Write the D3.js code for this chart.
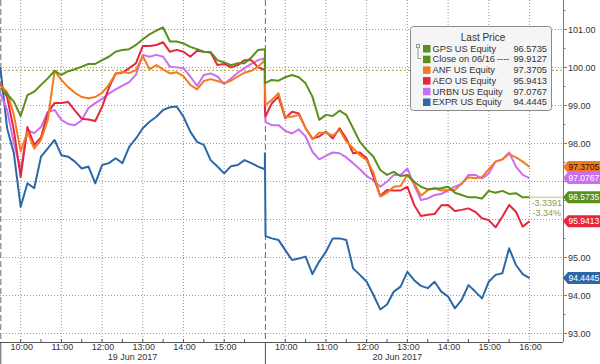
<!DOCTYPE html>
<html>
<head>
<meta charset="utf-8">
<script src="https://cdn.jsdelivr.net/npm/d3@7"></script>
<style>
  body { margin: 0; background: #fff; }
  text { font-family: "Liberation Sans", Arial, sans-serif; }
</style>
</head>
<body>
<div id="chart"></div>
<script>
// sample times (10 min bars, plus the opening print on day 2)
const day1Times = ("09:30 09:40 09:50 10:00 10:10 10:20 10:30 10:40 10:50 11:00 11:10 11:20 11:30 11:40 11:50 " +
  "12:00 12:10 12:20 12:30 12:40 12:50 13:00 13:10 13:20 13:30 13:40 13:50 14:00 14:10 14:20 14:30 14:40 14:50 " +
  "15:00 15:10 15:20 15:30 15:40 15:50 16:00").split(" ")
const day2Times = ("09:30 09:31 09:40 09:50 10:00 10:10 10:20 10:30 10:40 10:50 11:00 11:10 11:20 11:30 11:40 11:50 " +
  "12:00 12:10 12:20 12:30 12:40 12:50 13:00 13:10 13:20 13:30 13:40 13:50 14:00 14:10 14:20 14:30 14:40 14:50 " +
  "15:00 15:10 15:20 15:30 15:40 15:50 16:00").split(" ")
const dayLabels = ["19 Jun 2017", "20 Jun 2017"]
const hourLabels1 = ["10:00", "11:00", "12:00", "13:00", "14:00", "15:00"]
const hourLabels2 = ["10:00", "11:00", "12:00", "13:00", "14:00", "15:00", "16:00"]
const yTicks = [93, 94, 95, 96, 97, 98, 99, 100, 101]

const gps = [99.44, 99.29, 99.09, 98.71, 99.26, 99.35, 99.53, 99.70, 99.90, 99.79,
  99.89, 99.94, 100.01, 100.08, 100.08, 100.18, 100.27, 100.40, 100.45, 100.47,
  100.58, 100.73, 100.86, 100.96, 101.04, 100.67, 100.67, 100.62, 100.53, 100.47,
  100.40, 100.39, 100.18, 100.12, 100.05, 100.10, 100.10, 100.25, 100.45, 100.47,
  99.60, 99.58, 99.66, 99.64, 99.73, 99.79, 99.73, 99.57, 99.22, 98.61, 98.74,
  98.71, 98.85, 98.74, 98.39, 98.03, 97.82, 97.64, 97.29, 97.16, 97.24,
  97.13, 97.16, 96.98, 96.85, 96.78, 96.80, 96.81, 96.85, 96.69, 96.63,
  96.57, 96.57, 96.54, 96.74, 96.69, 96.74, 96.66, 96.68, 96.57, 96.5735]
const anf = [99.53, 99.34, 98.74, 97.78, 98.29, 97.85, 98.08, 98.61, 99.90, 99.66,
  99.47, 99.32, 99.21, 99.18, 99.21, 99.32, 99.53, 99.82, 99.87, 99.84,
  99.92, 100.29, 99.94, 100.05, 99.94, 99.83, 99.86, 99.76, 99.53, 99.41,
  99.63, 99.68, 99.63, 99.57, 99.64, 99.75, 99.85, 99.90, 100.01, 100.18,
  99.50, 99.00, 99.13, 99.31, 98.69, 98.69, 98.74, 98.39, 98.10, 98.27, 98.27,
  98.19, 98.34, 98.04, 97.86, 97.68, 97.55, 97.22, 96.59, 96.69, 96.85,
  96.87, 97.16, 96.94, 96.61, 96.76, 96.81, 96.75, 96.76, 96.76, 96.94,
  97.10, 97.07, 97.10, 97.31, 97.51, 97.57, 97.71, 97.62, 97.51, 97.3705]
const aeo = [99.55, 99.21, 98.34, 97.10, 98.42, 97.95, 98.15, 98.80, 99.05, 99.05,
  99.08, 98.85, 98.64, 98.62, 98.58, 98.95, 99.45, 99.83, 99.85, 99.97,
  100.10, 100.55, 100.55, 100.58, 100.65, 100.40, 100.45, 100.40, 100.27, 100.43,
  100.40, 100.38, 100.05, 100.08, 99.99, 100.05, 100.18, 100.18, 99.99, 99.92,
  98.90, 98.70, 99.04, 99.22, 98.65, 98.82, 98.78, 98.39, 98.12, 98.17, 98.30,
  98.12, 98.39, 98.12, 97.73, 97.75, 97.60, 97.11, 96.61, 96.76, 96.75,
  96.75, 96.85, 96.37, 96.08, 96.11, 96.13, 96.36, 96.37, 96.21, 96.24,
  96.28, 96.19, 96.02, 95.97, 95.78, 96.06, 96.37, 96.19, 95.80, 95.9413]
const urbn = [99.30, 98.87, 98.00, 97.30, 98.34, 98.26, 98.42, 98.82, 98.87, 98.61,
  98.50, 98.47, 98.60, 98.92, 99.05, 99.16, 99.30, 99.41, 99.51, 99.60,
  99.80, 100.32, 100.27, 100.32, 100.27, 100.01, 99.99, 99.97, 99.75, 99.50,
  99.79, 99.83, 99.75, 99.55, 99.70, 99.85, 99.97, 100.08, 100.18, 100.23,
  98.90, 98.55, 98.47, 98.47, 98.32, 98.25, 98.36, 98.17, 97.77, 97.57, 97.66,
  97.75, 97.73, 97.62, 97.47, 97.31, 97.13, 97.02, 96.85, 96.98, 97.16,
  97.16, 97.33, 96.89, 96.50, 96.54, 96.63, 96.66, 96.75, 96.85, 96.92,
  97.16, 97.16, 97.07, 97.20, 97.51, 97.57, 97.75, 97.38, 97.16, 97.0767]
const expr = [100.00, 98.39, 97.73, 96.32, 96.94, 96.81, 97.64, 97.86, 98.08, 97.68,
  97.64, 97.51, 97.33, 97.38, 96.94, 97.42, 97.47, 97.60, 97.47, 97.90,
  98.12, 98.39, 98.56, 98.69, 98.87, 98.94, 98.96, 98.69, 98.30, 98.03,
  97.95, 97.55, 97.38, 97.20, 97.39, 97.42, 97.55, 97.47, 97.38, 97.31,
  97.73, 95.55, 95.49, 95.45, 95.18, 94.92, 94.96, 95.01, 94.55, 94.88, 95.14,
  95.49, 95.49, 95.45, 94.70, 94.53, 94.35, 94.00, 93.62, 93.75, 94.09,
  94.22, 94.61, 94.39, 94.24, 94.18, 94.35, 94.09, 93.96, 93.65, 93.87,
  94.26, 94.09, 93.91, 94.35, 94.53, 94.57, 95.23, 94.79, 94.55, 94.4445]

const closePrev = 99.9127
const netChange = "-3.3391"
const pctChange = "-3.34%"

const series = [
  {name: "EXPR US Equity", values: expr, color: "#2c68a8", textColor: "#fff"},
  {name: "URBN US Equity", values: urbn, color: "#cc6ef2", textColor: "#fff"},
  {name: "AEO US Equity", values: aeo, color: "#e6263d", textColor: "#fff"},
  {name: "ANF US Equity", values: anf, color: "#f47a20", textColor: "#2a1000"},
  {name: "GPS US Equity", values: gps, color: "#5a8f1e", textColor: "#fff"}
]

const WIDTH = 600, HEIGHT = 364
const PLOT = {LEFT: 0, RIGHT: 563, TOP: 0, BOTTOM: 342}

const toMin = t => {
  const [h, m] = t.split(":").map(Number)
  return h * 60 + m - 570
}
const minutes = day1Times.map(toMin).concat(day2Times.map(t => toMin(t) + 390))

const x = d3.scaleLinear().domain([0, 780]).range([0.3, 529.5])
const y = d3.scaleLinear().domain([93, 101]).range([333, 29])

const svg = d3.select("#chart").append("svg")
  .attr("width", WIDTH)
  .attr("height", HEIGHT)

// grid
const hourMins = hourLabels1.map(h => toMin(h)).concat(hourLabels2.map(h => toMin(h) + 390))
svg.append("g").selectAll("line").data(hourMins).enter().append("line")
  .attr("x1", d => x(d)).attr("x2", d => x(d))
  .attr("y1", PLOT.TOP).attr("y2", PLOT.BOTTOM)
  .attr("stroke", "#9a9a9a").attr("stroke-dasharray", "1,2")
svg.append("g").selectAll("line").data(yTicks).enter().append("line")
  .attr("x1", PLOT.LEFT).attr("x2", PLOT.RIGHT)
  .attr("y1", d => y(d) + 0.5).attr("y2", d => y(d) + 0.5)
  .attr("stroke", "#9a9a9a").attr("stroke-dasharray", "1,2")

// previous close line
svg.append("line")
  .attr("x1", PLOT.LEFT).attr("x2", PLOT.RIGHT)
  .attr("y1", y(closePrev)).attr("y2", y(closePrev))
  .attr("stroke", "#a7a93c").attr("stroke-dasharray", "2,2")

// day separators
;[0, 390].forEach(m => {
  svg.append("line")
    .attr("x1", x(m) + 0.5).attr("x2", x(m) + 0.5)
    .attr("y1", PLOT.TOP).attr("y2", PLOT.BOTTOM)
    .attr("stroke", "#6e6e6e").attr("stroke-dasharray", "6,3")
  svg.append("line")
    .attr("x1", x(m) + 0.5).attr("x2", x(m) + 0.5)
    .attr("y1", PLOT.BOTTOM).attr("y2", HEIGHT)
    .attr("stroke", "#555")
})

// lines
const line = d3.line()
  .x((d, i) => x(minutes[i]))
  .y(d => y(d))

series.forEach(s => {
  svg.append("path")
    .datum(s.values)
    .attr("d", line)
    .attr("fill", "none")
    .attr("stroke", s.color)
    .attr("stroke-width", 2)
    .attr("stroke-linejoin", "round")
})

// net change marker for GPS
const gpsLast = gps[gps.length - 1]
svg.append("line")
  .attr("x1", x(780)).attr("x2", PLOT.RIGHT)
  .attr("y1", y(gpsLast)).attr("y2", y(gpsLast))
  .attr("stroke", "#b9c48c")
svg.append("text").attr("x", x(780) + 2).attr("y", y(gpsLast) + 9)
  .attr("font-size", 9).attr("fill", "#8c9a45").text(netChange)
svg.append("text").attr("x", x(780) + 3).attr("y", y(gpsLast) + 19)
  .attr("font-size", 9).attr("fill", "#8c9a45").text(pctChange)

// x axis
svg.append("line")
  .attr("x1", PLOT.LEFT).attr("x2", PLOT.RIGHT)
  .attr("y1", PLOT.BOTTOM + 0.5).attr("y2", PLOT.BOTTOM + 0.5)
  .attr("stroke", "#555")
const halfHours = d3.range(30, 780, 30).filter(m => m !== 390)
svg.append("g").selectAll("line").data(halfHours).enter().append("line")
  .attr("x1", d => x(d)).attr("x2", d => x(d))
  .attr("y1", PLOT.BOTTOM - 3).attr("y2", PLOT.BOTTOM)
  .attr("stroke", "#555")
svg.append("g").selectAll("text").data(hourLabels1.map(h => [h, toMin(h)]).concat(hourLabels2.map(h => [h, toMin(h) + 390])))
  .enter().append("text")
  .attr("x", d => x(d[1]) + 1)
  .attr("y", PLOT.BOTTOM + 8)
  .attr("text-anchor", "middle")
  .attr("font-size", 9)
  .attr("fill", "#333")
  .text(d => d[0])
svg.append("g").selectAll("text").data(dayLabels).enter().append("text")
  .attr("x", (d, i) => x(i * 390 + 195))
  .attr("y", PLOT.BOTTOM + 18)
  .attr("text-anchor", "middle")
  .attr("font-size", 9)
  .attr("fill", "#333")
  .text(d => d)

// y axis on the right
const lastValues = series.map(s => s.values[s.values.length - 1])
svg.append("line")
  .attr("x1", PLOT.RIGHT + 0.5).attr("x2", PLOT.RIGHT + 0.5)
  .attr("y1", PLOT.TOP).attr("y2", PLOT.BOTTOM)
  .attr("stroke", "#5a7fa8")
svg.append("g").selectAll("line").data(d3.range(93, 101.6, 0.5)).enter().append("line")
  .attr("x1", PLOT.RIGHT).attr("x2", d => PLOT.RIGHT + (d % 1 === 0 ? 4 : 2.5))
  .attr("y1", d => y(d) + 0.5).attr("y2", d => y(d) + 0.5)
  .attr("stroke", "#5a7fa8")
// labels hidden behind a last-price tag are not drawn
svg.append("g").selectAll("text")
  .data(yTicks.filter(t => !lastValues.some(v => Math.abs(y(v) - y(t)) < 8)))
  .enter().append("text")
  .attr("x", PLOT.RIGHT + 5)
  .attr("y", d => y(d) + 3.5)
  .attr("font-size", 9)
  .attr("fill", "#333")
  .text(d => d.toFixed(2))

// last price tags
const tags = series.slice().reverse()
tags.forEach(s => {
  const v = s.values[s.values.length - 1]
  const cy = y(v)
  svg.append("path")
    .attr("d", `M${PLOT.RIGHT},${cy} L${PLOT.RIGHT + 5},${cy - 6} L${WIDTH},${cy - 6} L${WIDTH},${cy + 6} L${PLOT.RIGHT + 5},${cy + 6} Z`)
    .attr("fill", s.color)
  svg.append("text")
    .attr("x", PLOT.RIGHT + 5.5)
    .attr("y", cy + 3.2)
    .attr("font-size", 8.5)
    .attr("fill", s.textColor)
    .text(v.toFixed(4))
})

// legend
const legend = svg.append("g")
legend.append("rect")
  .attr("x", 410.5).attr("y", 26.5).attr("width", 141).attr("height", 84).attr("rx", 3)
  .attr("fill", "#f5f5f5").attr("stroke", "#8a8a8a")
legend.append("text").attr("x", 483).attr("y", 41).attr("text-anchor", "middle")
  .attr("font-size", 10).attr("fill", "#333").text("Last Price")
const legendRows = [
  {name: "GPS US Equity", value: gpsLast.toFixed(4), color: "#5a8f1e"},
  {name: "Close on 06/16", value: closePrev.toFixed(4), color: "#5a8f1e", dash: true},
  {name: "ANF US Equity", value: anf[anf.length - 1].toFixed(4), color: "#f47a20"},
  {name: "AEO US Equity", value: aeo[aeo.length - 1].toFixed(4), color: "#e6263d"},
  {name: "URBN US Equity", value: urbn[urbn.length - 1].toFixed(4), color: "#cc6ef2"},
  {name: "EXPR US Equity", value: expr[expr.length - 1].toFixed(4), color: "#2c68a8"}
]
// small bracket linking GPS and its previous close
legend.append("rect").attr("x", 416.5).attr("y", 44.5).attr("width", 3).attr("height", 3)
  .attr("fill", "none").attr("stroke", "#999")
legend.append("path").attr("d", "M418,48 V58.5 H421").attr("fill", "none").attr("stroke", "#999")
legendRows.forEach((r, i) => {
  const cy = 48.5 + i * 10.7
  legend.append("rect").attr("x", 423).attr("y", cy - 3.5).attr("width", 7.5).attr("height", 7.5)
    .attr("fill", r.color)
  legend.append("text").attr("x", 432.5).attr("y", cy + 3.2)
    .attr("font-size", 9.3).attr("fill", "#333").text(r.name)
  if (r.dash) {
    legend.append("text").attr("x", 497).attr("y", cy + 3.2)
      .attr("font-size", 9.3).attr("fill", "#333").text("----")
  }
  legend.append("text").attr("x", 547).attr("y", cy + 3.2).attr("text-anchor", "end")
    .attr("font-size", 9.3).attr("fill", "#333").text(r.value)
})
</script>
</body>
</html>
